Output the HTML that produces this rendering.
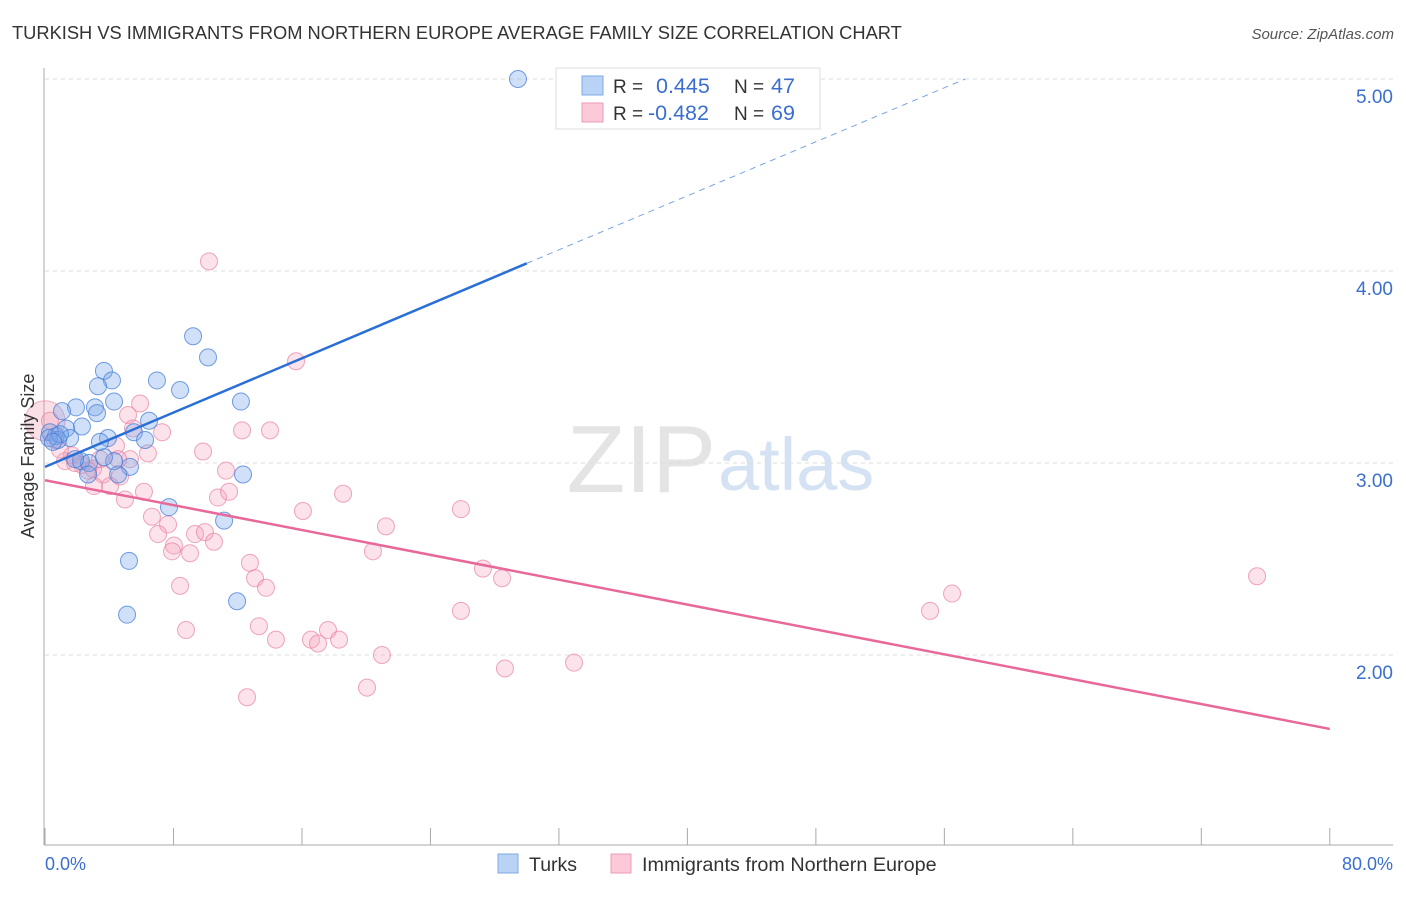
<!DOCTYPE html>
<html><head><meta charset="utf-8"><style>
body{margin:0;background:#fff;font-family:"Liberation Sans",sans-serif;}
svg text{font-family:"Liberation Sans",sans-serif;}
</style></head><body>
<svg id="chart" width="1406" height="892">
<text x="12" y="39" font-size="18.3" fill="#333">TURKISH VS IMMIGRANTS FROM NORTHERN EUROPE AVERAGE FAMILY SIZE CORRELATION CHART</text>
<text x="1394" y="39" font-size="15" fill="#555" font-style="italic" text-anchor="end">Source: ZipAtlas.com</text>
<text x="716" y="492" font-size="96" fill="#e4e4e4" text-anchor="end" font-family="Liberation Serif">ZIP</text>
<text x="718" y="490" font-size="74" fill="#d4e2f4">atlas</text>
<g id="grid"></g><g id="axes"></g><g id="pts"></g><g id="lines"></g>
<text transform="translate(34,456) rotate(-90)" font-size="18" fill="#333" text-anchor="middle">Average Family Size</text>
<text x="45" y="870" font-size="18" fill="#3a6fd0">0.0%</text>
<text x="1393" y="870" font-size="18" fill="#3a6fd0" text-anchor="end">80.0%</text>
<g>
<rect x="556" y="68" width="264" height="61" fill="#fff" stroke="#ddd"/>
<rect x="582" y="76" width="21" height="19" fill="#b8d3f5" stroke="#7ea8e3"/>
<rect x="582" y="103" width="21" height="19" fill="#fbc9d7" stroke="#ee9cb5"/>
<text x="613" y="93" font-size="19" fill="#333">R = </text><text x="656" y="93" font-size="21.5" fill="#3a6fd0">0.445</text>
<text x="734" y="93" font-size="19" fill="#333">N = </text><text x="771" y="93" font-size="21.5" fill="#3a6fd0">47</text>
<text x="613" y="120" font-size="19" fill="#333">R = </text><text x="648" y="120" font-size="21.5" fill="#3a6fd0">-0.482</text>
<text x="734" y="120" font-size="19" fill="#333">N = </text><text x="771" y="120" font-size="21.5" fill="#3a6fd0">69</text>
</g>
<g>
<rect x="498" y="854" width="20" height="19" fill="#b8d3f5" stroke="#7ea8e3"/>
<text x="529" y="871" font-size="19.5" fill="#333">Turks</text>
<rect x="611" y="854" width="20" height="19" fill="#fbc9d7" stroke="#ee9cb5"/>
<text x="642" y="871" font-size="19.8" fill="#333">Immigrants from Northern Europe</text>
</g>
</svg>
<script>
const yTicks=[2,3,4,5];
const yTickLabels=["2.00","3.00","4.00","5.00"];
const xTicks=[0,8,16,24,32,40,48,56,64,72,80];
const blueX=[29.45,9.22,10.15,3.67,4.17,3.30,6.97,8.41,12.20,4.30,1.93,3.11,1.06,3.24,6.48,2.30,1.31,0.31,0.68,1.56,3.92,3.42,5.54,6.23,0.81,0.25,2.24,2.74,4.30,3.67,5.29,2.68,4.55,12.33,7.72,11.15,5.23,5.11,11.96,1.87,0.93,0.50];
const blueY=[5.00,3.66,3.55,3.48,3.43,3.40,3.43,3.38,3.32,3.32,3.29,3.29,3.27,3.26,3.22,3.19,3.18,3.16,3.14,3.13,3.13,3.11,3.16,3.12,3.12,3.13,3.01,3.00,3.01,3.03,2.98,2.94,2.94,2.94,2.77,2.70,2.49,2.21,2.28,3.02,3.15,3.11];
const pinkX=[10.21,15.63,5.92,5.17,7.29,5.48,12.27,14.01,9.84,6.41,4.42,1.68,1.25,2.30,2.99,3.61,4.67,3.05,4.05,6.16,11.27,10.77,11.46,4.98,18.56,16.06,25.90,21.23,6.66,7.66,7.04,8.03,9.34,9.96,10.52,7.91,9.03,20.42,12.76,27.27,28.46,13.08,13.76,8.41,25.90,8.78,13.32,14.38,16.56,17.62,17.00,18.31,20.98,32.94,28.64,20.05,12.58,55.11,56.48,75.47,0.31,0.62,0.93,1.87,2.68,3.42,5.29,4.55];
const pinkY=[4.05,3.53,3.31,3.25,3.16,3.18,3.17,3.17,3.06,3.05,3.09,3.04,3.01,2.99,2.97,2.94,2.93,2.88,2.88,2.85,2.96,2.82,2.85,2.81,2.84,2.75,2.76,2.67,2.72,2.68,2.63,2.57,2.63,2.64,2.59,2.54,2.53,2.54,2.48,2.45,2.40,2.40,2.35,2.36,2.23,2.13,2.15,2.08,2.08,2.13,2.06,2.08,2.00,1.96,1.93,1.83,1.78,2.23,2.32,2.41,3.22,3.12,3.07,3.00,2.96,3.02,3.02,3.02];
const blueFit=[[0,2.98],[30,4.04],[57.3,5.0]];
const pinkFit=[[0,2.91],[80,1.615]];
const NS="http://www.w3.org/2000/svg";
const sx=v=>45+v*16.06, sy=v=>79+(5-v)*192;
function mk(tag,attrs,parent){const e=document.createElementNS(NS,tag);for(const k in attrs)e.setAttribute(k,attrs[k]);document.getElementById(parent).appendChild(e);return e;}
yTicks.forEach((t,i)=>{
 const g=mk('line',{x1:45,x2:1393,y1:sy(t),y2:sy(t),stroke:'#ddd','stroke-dasharray':'4,4'},'grid');
 
 
 const l=mk('text',{x:1393,y:sy(t)+24,'font-size':19,fill:'#3a6fd0','text-anchor':'end'},'grid');
 l.textContent=yTickLabels[i];
 
 
});
const ax=mk('line',{x1:44,x2:44,y1:68,y2:845,stroke:'#aaa'},'axes');


const bx=mk('line',{x1:44,x2:1393,y1:845,y2:845,stroke:'#aaa'},'axes');


xTicks.forEach(t=>{
 const k=mk('line',{x1:sx(t),x2:sx(t),y1:828,y2:845,stroke:'#aaa'},'axes');
 
 
});
const big=mk('circle',{cx:sx(0),cy:sy(3.22),r:20,fill:'rgba(240,150,175,0.3)',stroke:'rgba(232,130,160,0.6)'},'pts');


pinkX.forEach((x,i)=>{
 const c=mk('circle',{cx:sx(x),cy:sy(pinkY[i]),r:8.5,fill:'rgba(245,160,185,0.3)',stroke:'rgba(232,130,160,0.7)'},'pts');
 
 
});
blueX.forEach((x,i)=>{
 const c=mk('circle',{cx:sx(x),cy:sy(blueY[i]),r:8.5,fill:'rgba(120,165,235,0.35)',stroke:'rgba(70,125,215,0.75)'},'pts');
 
 
});
const b1=mk('line',{x1:sx(blueFit[0][0]),y1:sy(blueFit[0][1]),x2:sx(blueFit[1][0]),y2:sy(blueFit[1][1]),stroke:'#2a6fd6','stroke-width':2.5},'lines');


const b2=mk('line',{x1:sx(blueFit[1][0]),y1:sy(blueFit[1][1]),x2:sx(blueFit[2][0]),y2:sy(blueFit[2][1]),stroke:'#7aa3e0','stroke-width':1,'stroke-dasharray':'6,5'},'lines');


const p1=mk('line',{x1:sx(pinkFit[0][0]),y1:sy(pinkFit[0][1]),x2:sx(pinkFit[1][0]),y2:sy(pinkFit[1][1]),stroke:'#e8689a','stroke-width':2.5},'lines');


</script>
</body></html>
